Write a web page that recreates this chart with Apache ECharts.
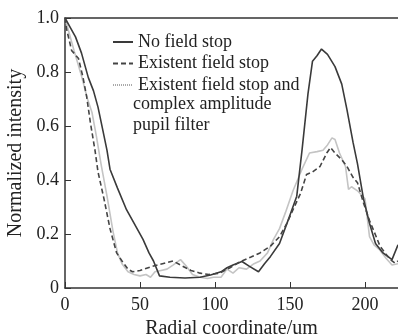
<!DOCTYPE html>
<html>
<head>
<meta charset="utf-8">
<script src="https://cdn.jsdelivr.net/npm/echarts@6/dist/echarts.min.js"></script>
<style>html,body{margin:0;padding:0;background:#fff;}#c{width:398px;height:335px;}</style>
</head>
<body>
<div id="c"></div>
<script>
var seriesNames = ["No field stop", "Existent field stop", "Existent field stop and"];
var legendExtra = "complex amplitude\npupil filter";
var xTicks = [0, 50, 100, 150, 200];
var yTicks = [0, 0.2, 0.4, 0.6, 0.8, 1.0];

var solidX = [0,3,7,11,15.5,19,22,25,28,30,35,41,46,52,56,59,63,70,80,90,97,104,108,112,118,123,129,133,137,143,150,154.5,158,162,165,168,171,175,180,184.5,188,192,195,199,203,207,212,218,222];
var solidY = [1.0,0.97,0.93,0.87,0.78,0.73,0.67,0.59,0.51,0.44,0.37,0.29,0.24,0.18,0.13,0.10,0.045,0.04,0.037,0.04,0.048,0.06,0.075,0.085,0.098,0.08,0.06,0.09,0.117,0.165,0.27,0.34,0.51,0.72,0.84,0.86,0.885,0.865,0.82,0.755,0.66,0.54,0.46,0.33,0.24,0.165,0.13,0.105,0.16];

var dashX = [0,1,4.4,9,12,14.4,17,20,22,26,30,34.4,38,42,45,50,58,65,72,77,84,90,96,103,110,117,124,130,137,143,148,152,157,161,165,170,174.5,177,180,184.5,188,192,195,199,203,206,210,214,217,220,222];
var dashY = [1.0,0.96,0.88,0.85,0.78,0.71,0.61,0.51,0.43,0.33,0.22,0.13,0.10,0.07,0.06,0.065,0.08,0.09,0.10,0.085,0.065,0.055,0.05,0.055,0.075,0.098,0.115,0.13,0.155,0.19,0.24,0.29,0.35,0.42,0.43,0.45,0.50,0.52,0.50,0.475,0.45,0.41,0.39,0.315,0.25,0.21,0.155,0.125,0.105,0.092,0.10];

var filtX = [0,3,6,11,15,18,21,24,28,32,35,38,42,46,50,54,57,60,64,68,72,77,81,85,90,95,99,104,108,112,116,121,126,130,135,139,143,147,152,158,163,168,172,175,178,180,183,187,189,191,195,200,203,206,210,214,218,222];
var filtY = [1.0,0.94,0.88,0.785,0.70,0.65,0.56,0.46,0.34,0.21,0.13,0.09,0.06,0.05,0.045,0.05,0.04,0.06,0.065,0.07,0.085,0.105,0.08,0.05,0.04,0.035,0.04,0.04,0.07,0.055,0.075,0.07,0.09,0.10,0.13,0.18,0.22,0.28,0.36,0.44,0.50,0.505,0.51,0.53,0.556,0.55,0.50,0.45,0.365,0.375,0.36,0.33,0.19,0.16,0.14,0.11,0.085,0.09];

function pairs(xs, ys) { return xs.map(function (x, i) { return [x, ys[i]]; }); }

var serif = '"Liberation Serif", "DejaVu Serif", serif';
var chart = echarts.init(document.getElementById('c'), null, {renderer: 'canvas'});
chart.setOption({
  animation: false,
  backgroundColor: '#fff',
  grid: {left: 65, top: 18, right: 0, bottom: 47, containLabel: false, outerBoundsMode: 'none'},
  xAxis: [{
    type: 'value', min: 0, max: 222, interval: 50,
    name: 'Radial coordinate/um', nameLocation: 'middle', nameGap: 27,
    nameTextStyle: {fontFamily: serif, fontSize: 20, color: '#222'},
    axisLine: {show: true, lineStyle: {color: '#333', width: 1.5}},
    axisTick: {show: true, inside: true, length: 6, lineStyle: {color: '#333'}},
    axisLabel: {fontFamily: serif, fontSize: 18, color: '#222', margin: 8, showMaxLabel: false,
      formatter: function (v) { return xTicks.indexOf(v) >= 0 ? String(v) : ''; }},
    splitLine: {show: false}
  }, {
    type: 'value', min: 0, max: 222, position: 'top',
    axisLine: {show: true, lineStyle: {color: '#333', width: 1.5}},
    axisTick: {show: false}, axisLabel: {show: false}, splitLine: {show: false}
  }],
  yAxis: {
    type: 'value', min: 0, max: 1, interval: 0.2,
    name: 'Normalized intensity', nameLocation: 'middle', nameGap: 34, nameRotate: 90,
    nameTextStyle: {fontFamily: serif, fontSize: 20, color: '#222'},
    axisLine: {show: true, lineStyle: {color: '#333', width: 1.5}},
    axisTick: {show: true, inside: true, length: 6, lineStyle: {color: '#333'}},
    axisLabel: {fontFamily: serif, fontSize: 18, color: '#222', margin: 6,
      formatter: function (v) { return v === 0 ? '0' : v.toFixed(1); }},
    splitLine: {show: false}
  },
  legend: {
    orient: 'vertical', left: 107, top: 28,
    itemWidth: 20, itemHeight: 10, itemGap: 3.5,
    itemStyle: {opacity: 0},
    textStyle: {fontFamily: serif, fontSize: 18, color: '#222', lineHeight: 17, padding: [0, 0, 0, 0]},
    data: [
      {name: seriesNames[0]},
      {name: seriesNames[1]},
      {name: seriesNames[2], lineStyle: {color: '#555', type: 'dotted', width: 1}}
    ]
  },
  graphic: [{
    type: 'text', left: 133, top: 94,
    style: {text: legendExtra, font: '18px ' + serif, fill: '#222', lineHeight: 21}
  }],
  series: [
    {name: seriesNames[0], type: 'line', data: pairs(solidX, solidY), symbol: 'none',
      lineStyle: {color: '#3a3a3a', width: 1.6}, itemStyle: {color: '#3a3a3a'}, z: 3},
    {name: seriesNames[1], type: 'line', data: pairs(dashX, dashY), symbol: 'none',
      lineStyle: {color: '#444', width: 1.6, type: [5, 3]}, itemStyle: {color: '#444'}, z: 4},
    {name: seriesNames[2], type: 'line', data: pairs(filtX, filtY), symbol: 'none',
      lineStyle: {color: '#c4c4c4', width: 1.6}, itemStyle: {color: '#c4c4c4'}, z: 2}
  ]
});
</script>
</body>
</html>
